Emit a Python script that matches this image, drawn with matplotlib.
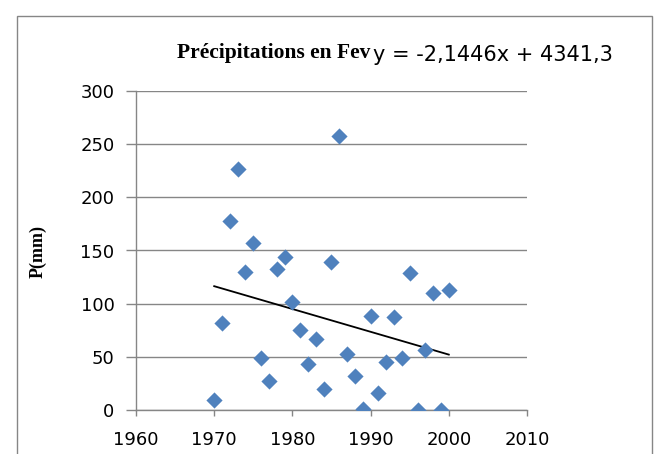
import numpy as np
import matplotlib
matplotlib.use("Agg")
import matplotlib.pyplot as plt
from matplotlib.patches import Rectangle

# data (February precipitation, mm)
years = list(range(1970, 2001))
precip = [9, 82, 178, 227, 130, 157, 49, 27, 133, 144,
          102, 75, 43, 67, 20, 139, 258, 53, 32, 1,
          88, 16, 45, 87, 49, 129, 0, 56, 110, 0, 113]

# linear trend as given on the chart
slope = -2.1446
intercept = 4341.3
title = "Précipitations en Fev"
equation = "y = -2,1446x + 4341,3"

yticks = [0, 50, 100, 150, 200, 250, 300]
xticks = [1960, 1970, 1980, 1990, 2000, 2010]

fig = plt.figure(figsize=(6.54, 4.54), dpi=100)
ax = fig.add_axes([136/654, 1 - 410/454, (527-136)/654, (410-91)/454])

# outer chart frame
fig.patches.append(Rectangle((17/654, -0.1), (652-17)/654, 1.1 - 16/454,
                             transform=fig.transFigure, fill=False,
                             edgecolor="#868686", lw=1.0))

ax.scatter(years, precip, marker="D", s=68, color="#4F81BD", linewidths=0, zorder=3)

xl = np.array([years[0], years[-1]])
ax.plot(xl, slope*xl + intercept, color="black", lw=1.3, zorder=2)

ax.set_xlim(1960, 2010)
ax.set_ylim(0, 300)
ax.set_xticks(xticks)
ax.set_yticks(yticks)
ax.yaxis.grid(True, color="#868686", lw=1.0)
ax.set_axisbelow(True)
for s in ["top", "right"]:
    ax.spines[s].set_visible(False)
for s in ["left", "bottom"]:
    ax.spines[s].set_color("#868686")
    ax.spines[s].set_linewidth(1.0)
ax.tick_params(axis="both", direction="out", length=7, width=1.0, color="#868686",
               labelsize=13)
ax.tick_params(axis="x", length=4, pad=11)
ax.tick_params(axis="y", pad=8.5)

fig.text(38/654, 1 - 252/454, "P(mm)", rotation=90, ha="center", va="center",
         family="Liberation Serif", weight="bold", fontsize=13)
fig.text(370/654, 1 - 58/454, title, ha="right", va="baseline",
         family="Liberation Serif", weight="bold", fontsize=15.5)
fig.text(373/654, 1 - 61/454, equation, ha="left", va="baseline",
         family="DejaVu Sans", fontsize=15)

fig.savefig("out.png", dpi=100)
